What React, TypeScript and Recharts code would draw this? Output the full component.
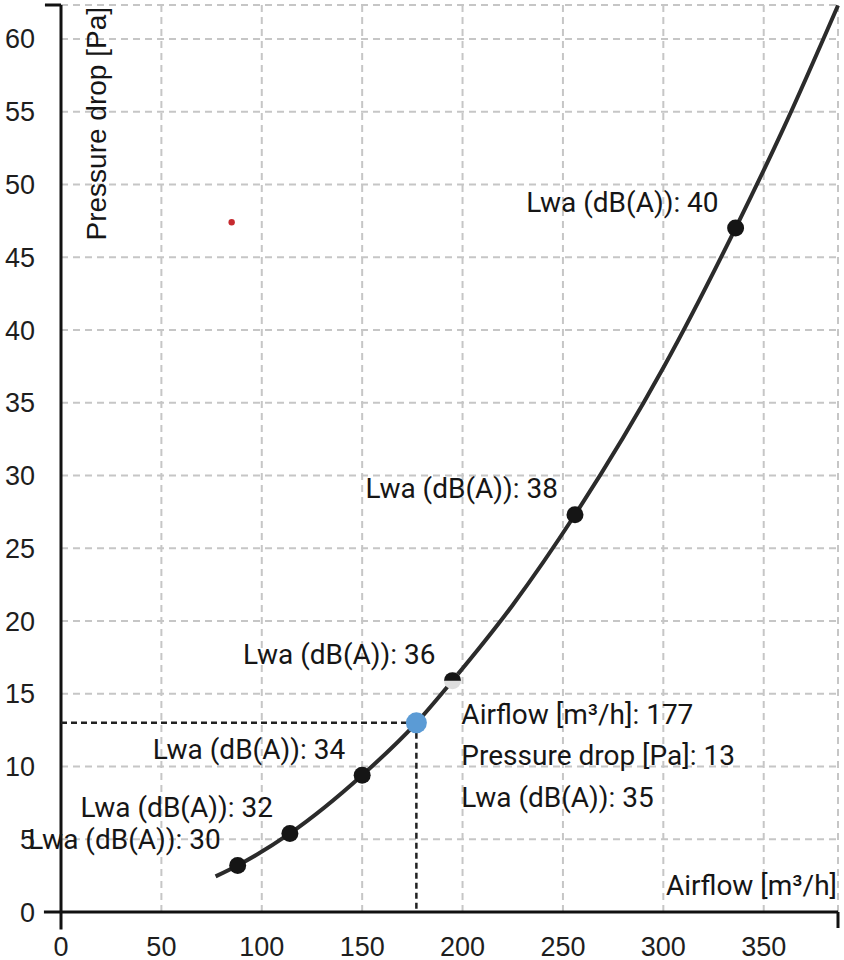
import React from 'react';
import { ComposedChart, Line, Scatter, XAxis, YAxis, CartesianGrid, ReferenceLine, Label } from 'recharts';

// Axis ticks / extents
const xTicks = [0, 50, 100, 150, 200, 250, 300, 350];
const yTicks = [0, 5, 10, 15, 20, 25, 30, 35, 40, 45, 50, 55, 60];
const xMax = 387;
const yMax = 62.33;

// System curve
const curveAirflow = [77, 88, 114, 150, 177, 195, 225, 256, 300, 336, 360, 387];
const curvePressure = [2.45, 3.2, 5.4, 9.4, 13, 15.9, 21.1, 27.3, 37.4, 47, 53.9, 62.3];

// Marked points with sound power level
const markerAirflow = [88, 114, 150, 195, 256, 336];
const markerPressure = [3.2, 5.4, 9.4, 15.9, 27.3, 47];
const markerLwa = [30, 32, 34, 36, 38, 40];
const fadedLwa = 36;

// Selected operating point
const selectedAirflow = [177];
const selectedPressure = [13];
const selectedLwa = [35];

// Stray red dot
const strayAirflow = [85];
const strayPressure = [47.4];

const curveData = curveAirflow.map((x, i) => ({ x, y: curvePressure[i] }));
const markerData = markerAirflow.map((x, i) => ({ x, y: markerPressure[i], lwa: markerLwa[i] }));
const selectedData = selectedAirflow.map((x, i) => ({ x, y: selectedPressure[i], lwa: selectedLwa[i] }));
const strayData = strayAirflow.map((x, i) => ({ x, y: strayPressure[i] }));

const annoFont = 'Roboto, "Noto Sans", sans-serif';
const tickFont = '"Liberation Sans", Arial, sans-serif';
const textColor = '#161616';

const MarkerShape = (props: any) => {
  const { cx, cy, payload } = props;
  if (cx == null || cy == null) return null;
  const faded = payload.lwa === fadedLwa;
  const r = 8.5;
  return (
    <g>
      {faded ? (
        <g>
          <circle cx={cx} cy={cy} r={r} fill="#dedede" />
          <path d={`M ${cx - r} ${cy} A ${r} ${r} 0 0 1 ${cx + r} ${cy} Z`} fill="#151515" />
        </g>
      ) : (
        <circle cx={cx} cy={cy} r={r} fill="#151515" />
      )}
      <text
        x={cx - 17}
        y={cy - 26}
        textAnchor="end"
        dominantBaseline="central"
        fontFamily={annoFont}
        fontSize={28}
        fill={textColor}
      >
        {`Lwa (dB(A)): ${payload.lwa}`}
      </text>
    </g>
  );
};

const SelectedShape = (props: any) => {
  const { cx, cy, payload } = props;
  if (cx == null || cy == null) return null;
  const tx = cx + 45;
  return (
    <g>
      <circle cx={cx} cy={cy} r={10.5} fill="#5b9bd5" />
      <text x={tx} y={cy - 8} dominantBaseline="central" fontFamily={annoFont} fontSize={28} fill={textColor}>
        {`Airflow [m³/h]: ${payload.x}`}
      </text>
      <text x={tx} y={cy + 33} dominantBaseline="central" fontFamily={annoFont} fontSize={28} fill={textColor}>
        {`Pressure drop [Pa]: ${payload.y}`}
      </text>
      <text x={tx} y={cy + 75} dominantBaseline="central" fontFamily={annoFont} fontSize={28} fill={textColor}>
        {`Lwa (dB(A)): ${payload.lwa}`}
      </text>
    </g>
  );
};

const StrayShape = (props: any) => {
  const { cx, cy } = props;
  if (cx == null || cy == null) return null;
  return <circle cx={cx} cy={cy} r={3.2} fill="#c62a2f" />;
};

export default function App() {
  return (
    <div style={{ position: 'absolute', left: 0, top: 0, width: 844, height: 960, background: '#ffffff' }}>
      <ComposedChart width={844} height={960} margin={{ top: 5, right: 6, bottom: 0, left: 0 }}>
        <CartesianGrid stroke="#c6c6c6" strokeWidth={2} strokeDasharray="7 5" />
        <XAxis
          type="number"
          dataKey="x"
          domain={[0, xMax]}
          ticks={xTicks}
          axisLine={false}
          tickLine={false}
          tickSize={0}
          tickMargin={25}
          height={48}
          tick={{ fill: '#1e1e1e', fontSize: 27, fontFamily: tickFont }}
        >
          <Label
            content={() => (
              <text
                x={837}
                y={885}
                textAnchor="end"
                dominantBaseline="central"
                fontFamily={annoFont}
                fontSize={28}
                fill={textColor}
              >
                Airflow [m³/h]
              </text>
            )}
          />
        </XAxis>
        <YAxis
          type="number"
          dataKey="y"
          domain={[0, yMax]}
          ticks={yTicks}
          axisLine={false}
          tickLine={false}
          tickSize={0}
          tickMargin={26}
          width={61}
          tick={{ fill: '#1e1e1e', fontSize: 27, fontFamily: tickFont }}
        >
          <Label
            content={() => (
              <text
                transform="translate(96, 7) rotate(-90)"
                textAnchor="end"
                dominantBaseline="central"
                fontFamily={tickFont}
                fontSize={28}
                fill={textColor}
              >
                Pressure drop [Pa]
              </text>
            )}
          />
        </YAxis>

        {/* axis lines with their extensions */}
        <ReferenceLine segment={[{ x: -8.5, y: 0 }, { x: xMax, y: 0 }]} stroke="#111" strokeWidth={3} ifOverflow="visible" />
        <ReferenceLine segment={[{ x: xMax, y: 0 }, { x: xMax, y: -1.1 }]} stroke="#111" strokeWidth={3} ifOverflow="visible" />
        <ReferenceLine segment={[{ x: 0, y: -1.2 }, { x: 0, y: yMax }]} stroke="#111" strokeWidth={3} ifOverflow="visible" />
        <ReferenceLine segment={[{ x: -8, y: yMax }, { x: 0, y: yMax }]} stroke="#111" strokeWidth={3} ifOverflow="visible" />

        {/* guide lines to selected point */}
        <ReferenceLine
          segment={[{ x: 0, y: selectedPressure[0] }, { x: selectedAirflow[0], y: selectedPressure[0] }]}
          stroke="#222"
          strokeWidth={2.5}
          strokeDasharray="6 4"
          ifOverflow="visible"
        />
        <ReferenceLine
          segment={[{ x: selectedAirflow[0], y: selectedPressure[0] }, { x: selectedAirflow[0], y: 0 }]}
          stroke="#222"
          strokeWidth={2.5}
          strokeDasharray="6 4"
          ifOverflow="visible"
        />

        <Line
          data={curveData}
          dataKey="y"
          type="monotone"
          stroke="#2b2b2b"
          strokeWidth={4}
          dot={false}
          activeDot={false}
          isAnimationActive={false}
        />
        <Scatter data={strayData} dataKey="y" shape={<StrayShape />} isAnimationActive={false} />
        <Scatter data={markerData} dataKey="y" shape={<MarkerShape />} isAnimationActive={false} />
        <Scatter data={selectedData} dataKey="y" shape={<SelectedShape />} isAnimationActive={false} />
      </ComposedChart>
    </div>
  );
}
